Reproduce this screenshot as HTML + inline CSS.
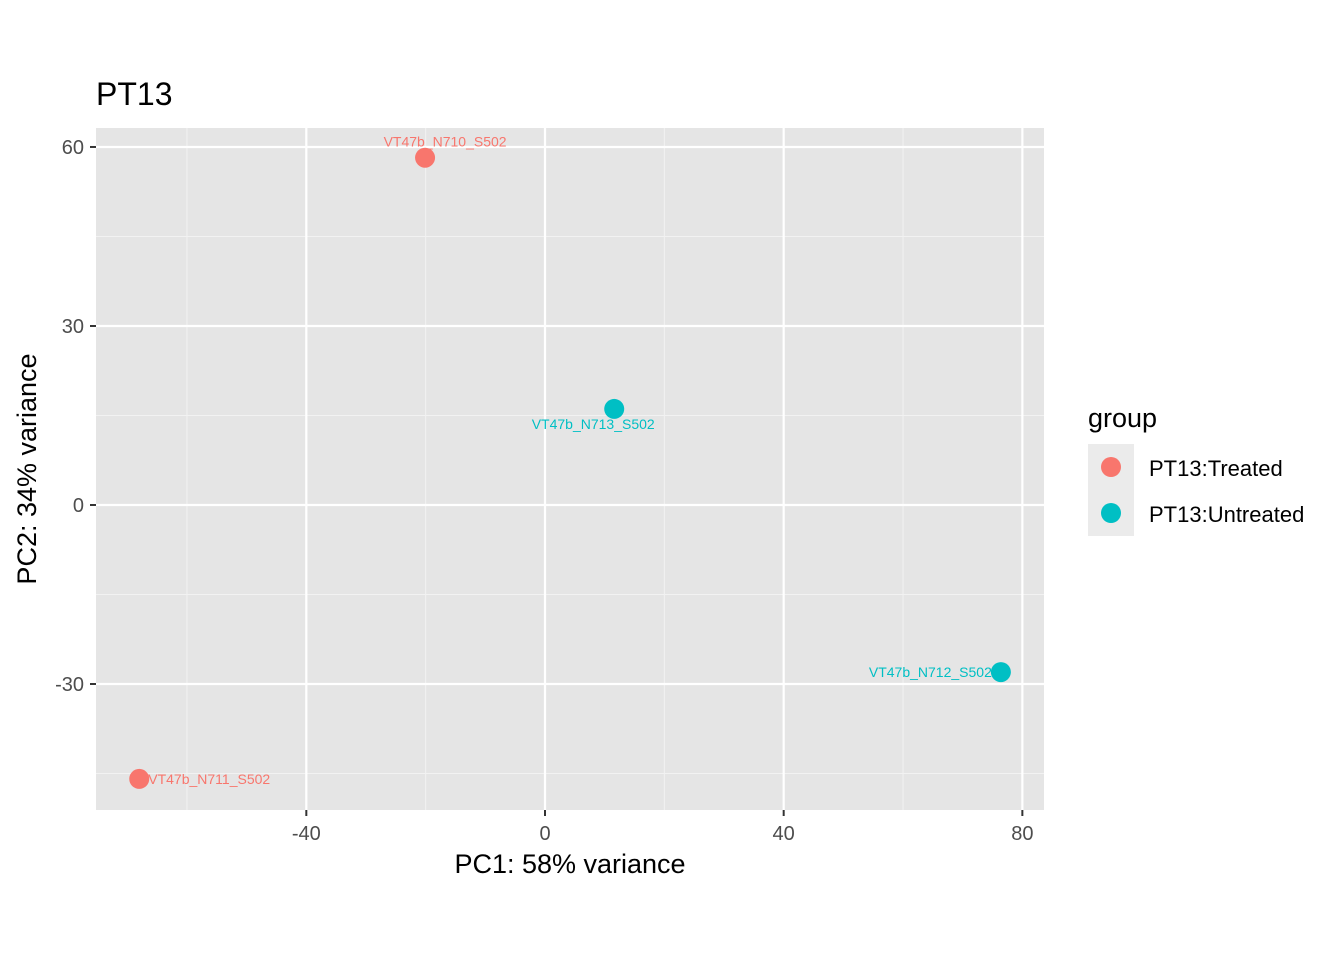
<!DOCTYPE html>
<html><head><meta charset="utf-8"><style>body{margin:0;background:#fff}svg{display:block;font-family:"Liberation Sans",Arial,sans-serif}</style></head>
<body>
<svg id="chart" width="1344" height="960" viewBox="0 0 1344 960" xmlns="http://www.w3.org/2000/svg">
<rect x="0" y="0" width="1344" height="960" fill="#fff"/>
<text x="96" y="105" font-size="32" fill="#000">PT13</text>
<rect x="96" y="128" width="948" height="682" fill="#e5e5e5"/>
<g id="grid"></g>
<g id="points"></g>
<text x="570" y="873" font-size="27" text-anchor="middle" fill="#000">PC1: 58% variance</text>
<text transform="translate(36,469) rotate(-90)" font-size="27" text-anchor="middle" fill="#000">PC2: 34% variance</text>
<g>
<text x="1088" y="427" font-size="27" fill="#000">group</text>
<rect x="1088" y="444" width="46" height="46" fill="#ebebeb"/>
<rect x="1088" y="490" width="46" height="46" fill="#ebebeb"/>
<circle cx="1111" cy="467" r="10" fill="#F8766D"/>
<circle cx="1111" cy="513" r="10" fill="#00BFC4"/>
<text x="1149" y="476" font-size="22" fill="#000">PT13:Treated</text>
<text x="1149" y="522" font-size="22" fill="#000">PT13:Untreated</text>
</g>
</svg>
<script>
const names=["VT47b_N710_S502","VT47b_N713_S502","VT47b_N712_S502","VT47b_N711_S502"];
const pc1=[-20.1,11.6,76.4,-68.0];
const pc2=[58.2,16.1,-28.0,-45.9];
const groups=["Treated","Untreated","Untreated","Treated"];
const xTicks=[-40,0,40,80];
const yTicks=[-30,0,30,60];
const ns="http://www.w3.org/2000/svg";
const sx=v=>545+v*5.967, sy=v=>505-v*5.967;
const colors={Treated:"#F8766D",Untreated:"#00BFC4"};
const grid=document.getElementById('grid'), pts=document.getElementById('points'), svg=document.getElementById('chart');
function mk(tag,attrs,parent){const e=document.createElementNS(ns,tag);for(const k in attrs)e.setAttribute(k,attrs[k]);parent.appendChild(e);return e;}
// minor grid
for(let i=0;i<xTicks.length-1;i++){const m=(xTicks[i]+xTicks[i+1])/2;const l=mk('line',{x1:sx(m),x2:sx(m),y1:128,y2:810,stroke:'#f2f2f2','stroke-width':1},grid);

}
{const m=xTicks[0]-20;const l=mk('line',{x1:sx(m),x2:sx(m),y1:128,y2:810,stroke:'#f2f2f2','stroke-width':1},grid);

}
for(let i=0;i<yTicks.length-1;i++){const m=(yTicks[i]+yTicks[i+1])/2;const l=mk('line',{x1:96,x2:1044,y1:sy(m),y2:sy(m),stroke:'#f2f2f2','stroke-width':1},grid);

}
{const m=yTicks[0]-15;const l=mk('line',{x1:96,x2:1044,y1:sy(m),y2:sy(m),stroke:'#f2f2f2','stroke-width':1},grid);

}
xTicks.forEach(t=>{const l=mk('line',{x1:sx(t),x2:sx(t),y1:128,y2:810,stroke:'#fff','stroke-width':2.2},grid);


const k=mk('line',{x1:sx(t),x2:sx(t),y1:810,y2:816,stroke:'#333','stroke-width':2},svg);


const tx=mk('text',{x:sx(t),y:840,'font-size':20,'text-anchor':'middle',fill:'#4d4d4d'},svg);tx.textContent=t;

});
yTicks.forEach(t=>{const l=mk('line',{x1:96,x2:1044,y1:sy(t),y2:sy(t),stroke:'#fff','stroke-width':2.2},grid);


const k=mk('line',{x1:90,x2:96,y1:sy(t),y2:sy(t),stroke:'#333','stroke-width':2},svg);


const tx=mk('text',{x:84,y:sy(t)+7,'font-size':20,'text-anchor':'end',fill:'#4d4d4d'},svg);tx.textContent=t;

});
const offs=[[20,-11,'middle'],[-21,20,'middle'],[-9,5,'end'],[9,5,'start']];
names.forEach((n,i)=>{const c=mk('circle',{cx:sx(pc1[i]),cy:sy(pc2[i]),r:10,fill:colors[groups[i]]},pts);


const o=offs[i];const t=mk('text',{x:sx(pc1[i])+o[0],y:sy(pc2[i])+o[1],'font-size':14,'text-anchor':o[2],fill:colors[groups[i]]},pts);t.textContent=n;

});
</script>
</body></html>
